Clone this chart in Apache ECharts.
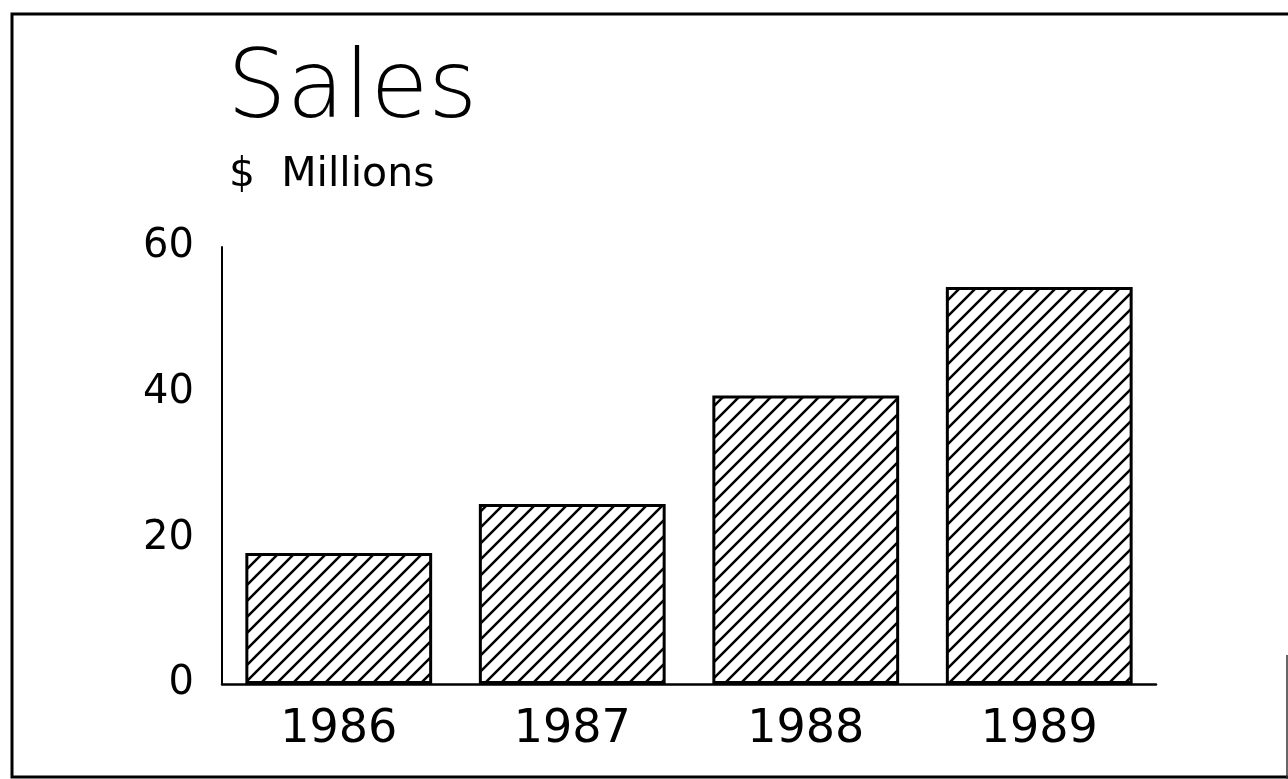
<!DOCTYPE html>
<html>
<head>
<meta charset="utf-8">
<script src="https://cdn.jsdelivr.net/npm/echarts@6/dist/echarts.min.js"></script>
<style>
html,body{margin:0;padding:0;background:#fff;}
#chart{width:1288px;height:779px;}
</style>
</head>
<body>
<div id="chart"></div>
<script>
// ---- data ----
const categories = ['1986', '1987', '1988', '1989'];
const salesValues = [18, 24.7, 39.6, 54.5];
const yTicks = [0, 20, 40, 60];
const titleText = 'Sales';
const subtitleText = '$  Millions';

// hatch pattern
function makeHatch() {
  const s = 16;
  const c = document.createElement('canvas');
  c.width = s; c.height = s;
  const ctx = c.getContext('2d');
  ctx.fillStyle = '#fff';
  ctx.fillRect(0, 0, s, s);
  ctx.strokeStyle = '#000';
  ctx.lineWidth = 2.5;
  ctx.lineCap = 'square';
  for (const k of [-s, 0, s]) {
    ctx.beginPath();
    ctx.moveTo(k, s);
    ctx.lineTo(k + s, 0);
    ctx.stroke();
  }
  return c;
}

const chart = echarts.init(document.getElementById('chart'), null, {renderer: 'canvas'});
const font = 'DejaVu Sans';
chart.setOption({
  backgroundColor: '#fff',
  animation: false,
  title: [
    {text: titleText, left: 222, top: 41,
     textStyle: {fontFamily: font, fontWeight: 200, fontSize: 94, color: '#000'}},
    {text: subtitleText, left: 224, top: 150,
     textStyle: {fontFamily: font, fontWeight: 'normal', fontSize: 41, color: '#000'}}
  ],
  grid: {left: 222, right: 132, top: 247, bottom: 95, containLabel: false},
  xAxis: {
    type: 'category',
    data: categories,
    axisLine: {show: true, lineStyle: {color: '#000', width: 2.5}},
    axisTick: {show: false},
    axisLabel: {color: '#000', fontFamily: font, fontSize: 46, margin: 23}
  },
  yAxis: {
    type: 'value',
    min: yTicks[0], max: yTicks[yTicks.length - 1], interval: 20,
    axisLine: {show: true, lineStyle: {color: '#000', width: 2}},
    axisTick: {show: false},
    splitLine: {show: false},
    axisLabel: {color: '#000', fontFamily: font, fontSize: 40, margin: 28}
  },
  series: [{
    type: 'bar',
    data: salesValues,
    barCategoryGap: '20%',
    itemStyle: {
      color: {image: makeHatch(), repeat: 'repeat'},
      borderColor: '#000',
      borderWidth: 3
    }
  }],
  graphic: [
    {type: 'polyline', shape: {points: [[1288, 14], [12, 14], [12, 777], [1288, 777]]},
     style: {stroke: '#000', lineWidth: 3, fill: null}, silent: true},
    {type: 'line', shape: {x1: 1287, y1: 655, x2: 1287, y2: 779},
     style: {stroke: '#333', lineWidth: 1.5}, silent: true}
  ]
});
</script>
</body>
</html>
